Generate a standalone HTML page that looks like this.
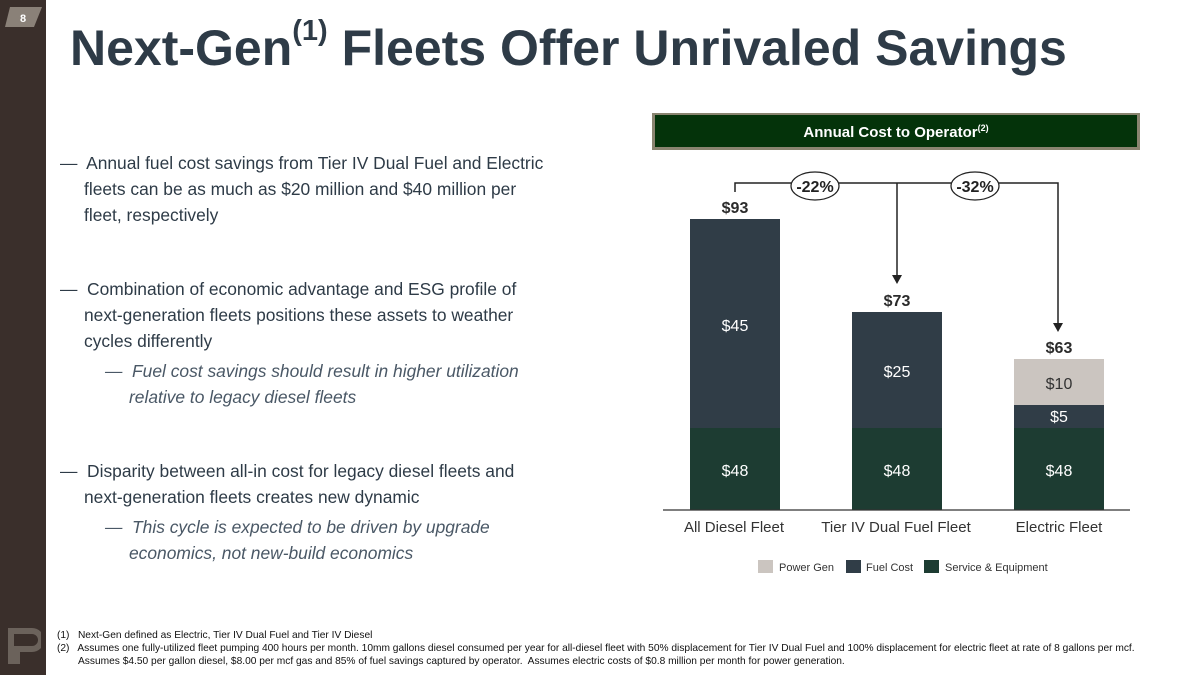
<!DOCTYPE html>
<html><head><meta charset="utf-8"><style>
body{margin:0;width:1200px;height:675px;position:relative;overflow:hidden;background:#fff;font-family:"Liberation Sans",Arial,sans-serif}
.sb{position:absolute;left:0;top:0;width:46px;height:675px;background:#3a2f2b}
.t{position:absolute;left:70px;top:19px;font-size:50px;font-weight:bold;color:#2e3b47;white-space:nowrap}
.t sup{font-size:29px;vertical-align:top;position:relative;top:-4px}
.b{position:absolute;font-size:17.4px;line-height:26px;color:#2e3b47;white-space:nowrap}
.b i{color:#4a5866}
.fn{position:absolute;left:57px;font-size:10.2px;color:#111;line-height:13px;white-space:nowrap}
</style></head><body>
<div class="sb"></div>
<svg style="position:absolute;left:0;top:0" width="50" height="40"><polygon points="10,7 42,7 34,27 5,27" fill="#8a8178"/><text x="23" y="22" font-size="11" font-weight="bold" fill="#fff" text-anchor="middle" font-family="Liberation Sans">8</text></svg>
<svg style="position:absolute;left:5px;top:625px" width="36" height="45"><path d="M3,3h24a12,12 0 0 1 0,24h-12v12h-12zM9,9v12h18a6,6 0 0 0 0,-12z" fill="#6b625b"/></svg>
<div class="t">Next-Gen<sup>(1)</sup> Fleets Offer Unrivaled Savings</div>

<div class="b" style="left:60px;top:150px">—&nbsp; Annual fuel cost savings from Tier IV Dual Fuel and Electric<br><span style="padding-left:24px">fleets can be as much as $20 million and $40 million per</span><br><span style="padding-left:24px">fleet, respectively</span></div>
<div class="b" style="left:60px;top:276px">—&nbsp; Combination of economic advantage and ESG profile of<br><span style="padding-left:24px">next-generation fleets positions these assets to weather</span><br><span style="padding-left:24px">cycles differently</span></div>
<div class="b" style="left:105px;top:358px"><i>—&nbsp; Fuel cost savings should result in higher utilization<br><span style="padding-left:24px">relative to legacy diesel fleets</span></i></div>
<div class="b" style="left:60px;top:458px">—&nbsp; Disparity between all-in cost for legacy diesel fleets and<br><span style="padding-left:24px">next-generation fleets creates new dynamic</span></div>
<div class="b" style="left:105px;top:514px"><i>—&nbsp; This cycle is expected to be driven by upgrade<br><span style="padding-left:24px">economics, not new-build economics</span></i></div>

<svg style="position:absolute;left:0;top:0" width="1200" height="675" font-family="Liberation Sans">
<rect x="652" y="113" width="488" height="37" fill="#8a8470"/>
<rect x="655" y="115" width="482" height="32" fill="#04330a"/>
<text x="896" y="137" fill="#fff" font-size="15" font-weight="bold" text-anchor="middle">Annual Cost to Operator<tspan font-size="9" dy="-6">(2)</tspan></text>
<g stroke="#222" stroke-width="1.5" fill="none">
<polyline points="735,192 735,183 1058,183 1058,324"/>
<line x1="897" y1="183" x2="897" y2="276"/>
</g>
<polygon points="892,275 902,275 897,284" fill="#222"/>
<polygon points="1053,323 1063,323 1058,332" fill="#222"/>
<ellipse cx="815" cy="186" rx="24" ry="14" fill="#fff" stroke="#222" stroke-width="1.2"/>
<ellipse cx="975" cy="186" rx="24" ry="14" fill="#fff" stroke="#222" stroke-width="1.2"/>
<text x="815" y="192" font-size="16" font-weight="bold" text-anchor="middle" fill="#222">-22%</text>
<text x="975" y="192" font-size="16" font-weight="bold" text-anchor="middle" fill="#222">-32%</text>
<rect x="690" y="219" width="90" height="209" fill="#303d47"/>
<rect x="690" y="428" width="90" height="82" fill="#1d3c32"/>
<rect x="852" y="312" width="90" height="116" fill="#303d47"/>
<rect x="852" y="428" width="90" height="82" fill="#1d3c32"/>
<rect x="1014" y="359" width="90" height="46" fill="#cbc5c0"/>
<rect x="1014" y="405" width="90" height="23" fill="#303d47"/>
<rect x="1014" y="428" width="90" height="82" fill="#1d3c32"/>
<line x1="663" y1="510" x2="1130" y2="510" stroke="#333" stroke-width="1.2"/>
<g font-size="16" font-weight="bold" fill="#2b2b2b" text-anchor="middle">
<text x="735" y="213">$93</text><text x="897" y="306">$73</text><text x="1059" y="353">$63</text></g>
<g font-size="16" fill="#fff" text-anchor="middle">
<text x="735" y="331">$45</text><text x="897" y="377">$25</text><text x="1059" y="422">$5</text>
<text x="735" y="476">$48</text><text x="897" y="476">$48</text><text x="1059" y="476">$48</text></g>
<text x="1059" y="389" font-size="16" fill="#333" text-anchor="middle">$10</text>
<g font-size="15" fill="#333" text-anchor="middle">
<text x="734" y="532">All Diesel Fleet</text><text x="896" y="532">Tier IV Dual Fuel Fleet</text><text x="1059" y="532">Electric Fleet</text></g>
<rect x="758" y="560" width="15" height="13" fill="#cbc5c0"/><text x="779" y="571" font-size="11" fill="#333">Power Gen</text>
<rect x="846" y="560" width="15" height="13" fill="#303d47"/><text x="866" y="571" font-size="11" fill="#333">Fuel Cost</text>
<rect x="924" y="560" width="15" height="13" fill="#1d3c32"/><text x="945" y="571" font-size="11" fill="#333">Service &amp; Equipment</text>
</svg>

<div class="fn" style="top:629px">(1)&nbsp;&nbsp; Next-Gen defined as Electric, Tier IV Dual Fuel and Tier IV Diesel</div>
<div class="fn" style="top:642px">(2)&nbsp;&nbsp; Assumes one fully-utilized fleet pumping 400 hours per month. 10mm gallons diesel consumed per year for all-diesel fleet with 50% displacement for Tier IV Dual Fuel and 100% displacement for electric fleet at rate of 8 gallons per mcf.<br><span style="padding-left:21px">Assumes $4.50 per gallon diesel, $8.00 per mcf gas and 85% of fuel savings captured by operator.&nbsp; Assumes electric costs of $0.8 million per month for power generation.</span></div>
</body></html>
